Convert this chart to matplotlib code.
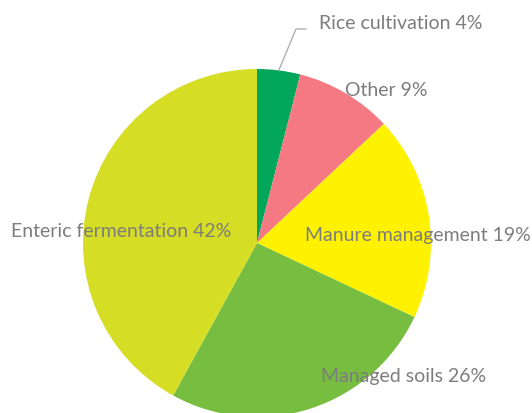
import numpy as np
import matplotlib
matplotlib.use("Agg")
import matplotlib.pyplot as plt

plt.rcParams['font.family'] = ['Lato', 'DejaVu Sans']

sources = ["Rice cultivation", "Other", "Manure management", "Managed soils", "Enteric fermentation"]
shares = [4, 9, 19, 26, 42]
colors = ["#00a65a", "#f47983", "#fff200", "#76bd40", "#d5dd25"]
# label centres, in pie radii from the pie centre
label_pos = [(0.828, 1.270), (0.741, 0.885), (0.925, 0.046), (0.845, -0.759), (-0.782, 0.069)]

fig = plt.figure(figsize=(5.32, 4.14), dpi=100)
ax = fig.add_axes([0, 0, 1, 1])

wedges, _ = ax.pie(shares, colors=colors, startangle=90, counterclock=False,
                   radius=1.0, wedgeprops=dict(linewidth=0))

for name, share, (x, y) in zip(sources, shares, label_pos):
    ax.text(x, y, f"{name} {share}%", ha='center', va='center',
            fontsize=14, color='#7d7d7d')

# leader line for the small rice slice
w = wedges[0]
mid = np.deg2rad((w.theta1 + w.theta2) / 2)
x0, y0 = np.cos(mid), np.sin(mid)
ax.plot([x0, 0.224, 0.282], [y0, 1.230, 1.230], color='#b0b0b0', lw=1.0)

ax.set_xlim(-257 / 174, (532 - 257) / 174)
ax.set_ylim(-(414 - 244) / 174, 244 / 174)
ax.set_aspect('auto')
ax.axis('off')

fig.savefig('out.png', dpi=100, facecolor='white')
